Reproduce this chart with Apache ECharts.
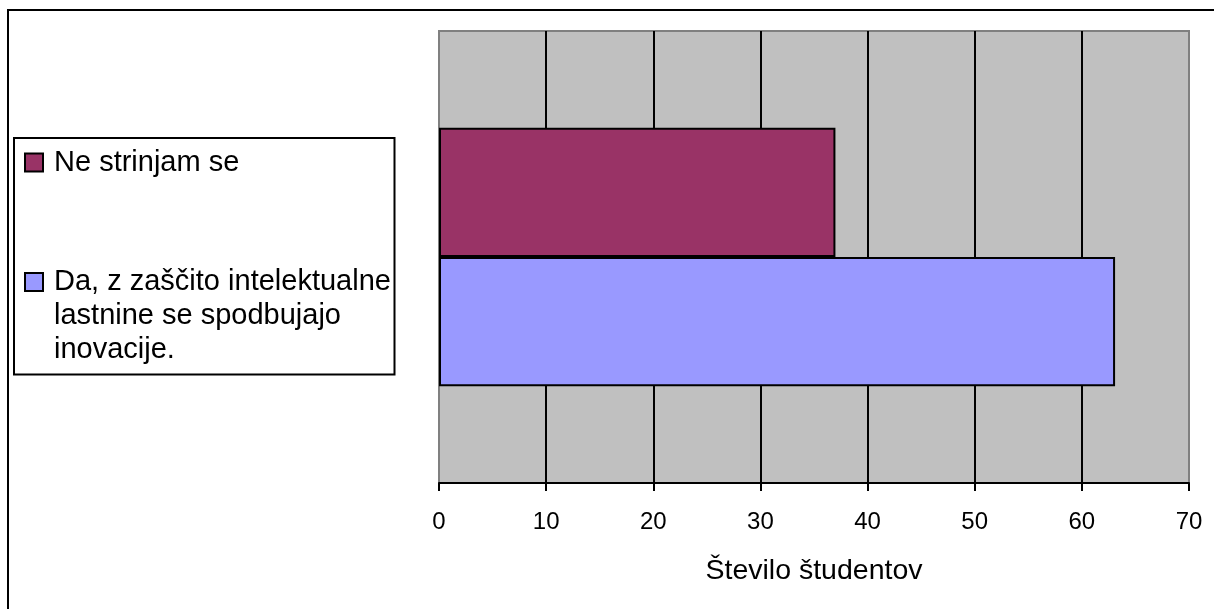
<!DOCTYPE html>
<html>
<head>
<meta charset="utf-8">
<script src="https://cdn.jsdelivr.net/npm/echarts@6/dist/echarts.min.js"></script>
<style>
  html, body { margin: 0; padding: 0; background: #ffffff; }
  #chart { width: 1214px; height: 609px; }
</style>
</head>
<body>
<div id="chart"></div>
<script>
// Survey answers: number of students per answer
const categories = [''];
const seriesNames = ['Ne strinjam se', 'Da, z zaščito intelektualne lastnine se spodbujajo inovacije.'];
// legend text; the two leading blank lines keep the swatch level with the first line
const legendLabels = ['Ne strinjam se', '\n\nDa, z zaščito intelektualne\nlastnine se spodbujajo\ninovacije.'];
const disagreeValues = [37];
const agreeValues = [63.1];
const xTicks = { min: 0, max: 70, interval: 10 };
const xAxisTitle = 'Število študentov';
const colors = ['#993366', '#9999FF'];

const chart = echarts.init(document.getElementById('chart'), null, { renderer: 'canvas' });

const textFont = 'Liberation Sans, Arial, sans-serif';
const lineH = 34;

chart.setOption({
  animation: false,
  backgroundColor: '#ffffff',
  graphic: [
    { type: 'rect', shape: { x: 8, y: 10, width: 1300, height: 700 },
      style: { fill: 'none', stroke: '#000000', lineWidth: 2 }, z: 0 },
    { type: 'rect', shape: { x: 14, y: 138, width: 380.5, height: 236.5 },
      style: { fill: '#ffffff', stroke: '#000000', lineWidth: 2 }, z: 1 }
  ],
  grid: {
    left: 439, right: 25, top: 31, bottom: 126,
    show: true, backgroundColor: '#C0C0C0', borderColor: '#808080', borderWidth: 2,
    containLabel: false
  },
  legend: {
    orient: 'vertical',
    left: 24, top: 145.5, padding: 0,
    itemWidth: 18, itemHeight: 18, itemGap: 17.5,
    icon: 'rect',
    z: 5,
    textStyle: { fontFamily: textFont, fontSize: 29, color: '#000000', lineHeight: lineH, padding: [0, 0, 0, 6] },
    data: [seriesNames[0], seriesNames[1]],
    formatter: function (name) { return legendLabels[seriesNames.indexOf(name)]; }
  },
  xAxis: {
    type: 'value',
    min: xTicks.min, max: xTicks.max, interval: xTicks.interval,
    name: xAxisTitle, nameLocation: 'middle', nameGap: 74,
    nameTextStyle: { fontFamily: textFont, fontSize: 28.5, color: '#000000' },
    axisLine: { show: true, lineStyle: { color: '#000000', width: 2 } },
    axisTick: { show: true, length: 8, lineStyle: { color: '#000000', width: 2 } },
    axisLabel: { fontFamily: textFont, fontSize: 24, color: '#000000', margin: 27 },
    splitLine: { show: true, showMinLine: false, showMaxLine: false, lineStyle: { color: '#000000', width: 2 } }
  },
  yAxis: {
    type: 'category',
    data: categories,
    axisLine: { show: false },
    axisTick: { show: false },
    axisLabel: { show: false },
    splitLine: { show: false }
  },
  series: [
    {
      name: seriesNames[0], type: 'bar', data: disagreeValues,
      barGap: 0, barCategoryGap: '42.86%',
      itemStyle: { color: colors[0], borderColor: '#000000', borderWidth: 2 }
    },
    {
      name: seriesNames[1], type: 'bar', data: agreeValues,
      barGap: 0, barCategoryGap: '42.86%',
      itemStyle: { color: colors[1], borderColor: '#000000', borderWidth: 2 }
    }
  ]
});
</script>
</body>
</html>
